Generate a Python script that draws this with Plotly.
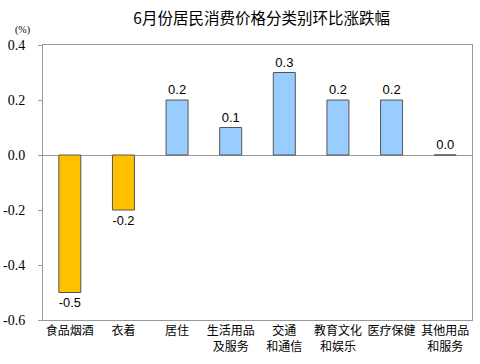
import plotly.graph_objects as go

categories = ["食品烟酒", "衣着", "居住", "生活用品<br>及服务", "交通<br>和通信", "教育文化<br>和娱乐", "医疗保健", "其他用品<br>和服务"]
values = [-0.5, -0.2, 0.2, 0.1, 0.3, 0.2, 0.2, 0.0]
labels = ["-0.5", "-0.2", "0.2", "0.1", "0.3", "0.2", "0.2", "0.0"]
y_ticks = [0.4, 0.2, 0.0, -0.2, -0.4, -0.6]
y_tick_labels = ["0.4", "0.2", "0.0", "-0.2", "-0.4", "-0.6"]

colors = ["#FFC000" if v < 0 else "#99CCFF" for v in values]
serif = "Liberation Serif"

fig = go.Figure(go.Bar(
    x=categories, y=values, width=0.41,
    marker=dict(color=colors, line=dict(color="#555555", width=1)),
    text=labels, textposition="outside", cliponaxis=False,
    textfont=dict(family="Liberation Sans", size=13, color="#000000"),
))

fig.update_layout(
    width=480, height=364,
    margin=dict(l=43, r=8, t=45, b=44),
    plot_bgcolor="white", paper_bgcolor="white",
    showlegend=False,
    title=dict(text="6月份居民消费价格分类别环比涨跌幅", x=0.545, xanchor="center", y=0.95, yanchor="middle",
               font=dict(family="Noto Sans CJK SC", size=15.5, color="#000000")),
    annotations=[dict(text="(%)", xref="paper", yref="paper", x=-0.048, y=1.055, xanchor="center", yanchor="middle",
                      showarrow=False, font=dict(family=serif, size=10, color="#000000"))],
)
fig.update_xaxes(showline=True, linecolor="#999999", linewidth=1, mirror=True, ticks="",
                 tickfont=dict(family="Noto Sans CJK SC", size=12, color="#000000"))
fig.update_yaxes(range=[-0.6, 0.4], tickvals=y_ticks, ticktext=y_tick_labels, showgrid=False,
                 showline=True, linecolor="#999999", linewidth=1, mirror=True,
                 ticks="outside", ticklen=4, tickcolor="#999999", ticklabelstandoff=10,
                 automargin=False,
                 zeroline=True, zerolinecolor="#999999", zerolinewidth=1,
                 tickfont=dict(family=serif, size=14, color="#000000"))

fig.write_html("out.html", config={"displayModeBar": False},
               post_script="document.body.style.margin='0px';")
